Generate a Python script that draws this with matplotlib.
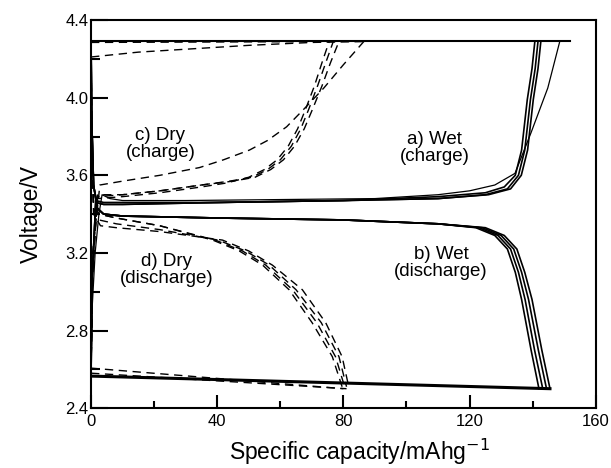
import matplotlib
matplotlib.use("Agg")
import matplotlib.pyplot as plt
from matplotlib.ticker import MultipleLocator

plt.rcParams['font.family'] = ['Liberation Sans', 'DejaVu Sans']

# ---- wet cell, charge (solid)
wet_chg1_x = [0, 0.3, 1.3, 2.5, 3.5, 6, 10, 30, 60, 90, 110, 120, 128, 134.4, 139.5, 144.8, 148.6]
wet_chg1_v = [2.56, 2.9, 3.2, 3.4, 3.50, 3.48, 3.47, 3.47, 3.475, 3.48, 3.50, 3.52, 3.55, 3.61, 3.82, 4.05, 4.29]
wet_chg2_x = [0, 0.3, 1.5, 4, 10, 40, 80, 110, 125, 131, 134.5, 136.5, 138.3, 139.8, 140.7]
wet_chg2_v = [2.56, 3.05, 3.47, 3.46, 3.46, 3.46, 3.47, 3.49, 3.51, 3.54, 3.60, 3.73, 3.99, 4.15, 4.29]
wet_chg3_x = [0, 0.3, 1.5, 4, 10, 40, 80, 110, 125, 132, 135.5, 137.5, 139.3, 140.8, 141.7]
wet_chg3_v = [2.56, 3.05, 3.46, 3.45, 3.45, 3.46, 3.47, 3.48, 3.50, 3.53, 3.60, 3.73, 3.99, 4.15, 4.29]
wet_chg4_x = [0, 0.3, 1.5, 4, 10, 40, 80, 110, 126, 133, 136.4, 138.4, 140.2, 141.7, 142.6]
wet_chg4_v = [2.56, 3.05, 3.46, 3.45, 3.45, 3.46, 3.47, 3.48, 3.50, 3.53, 3.60, 3.73, 3.99, 4.15, 4.29]

# ---- wet cell, discharge (solid)
wet_dis1_x = [0, 0.2, 0.8, 2, 4, 10, 40, 80, 110, 122, 128, 132, 134.5, 136.5, 139.5, 142]
wet_dis1_v = [4.29, 3.9, 3.55, 3.43, 3.40, 3.39, 3.38, 3.37, 3.35, 3.33, 3.29, 3.22, 3.10, 2.96, 2.70, 2.50]
wet_dis2_x = [0, 0.2, 0.8, 2, 4, 10, 40, 80, 110, 123, 129, 133, 135.5, 137.6, 140.6, 143.2]
wet_dis2_v = [4.29, 3.9, 3.55, 3.43, 3.40, 3.39, 3.38, 3.37, 3.35, 3.33, 3.29, 3.22, 3.10, 2.96, 2.70, 2.50]
wet_dis3_x = [0, 0.2, 0.8, 2, 4, 10, 40, 80, 110, 124, 130, 134, 136.5, 138.7, 141.8, 144.4]
wet_dis3_v = [4.29, 3.9, 3.55, 3.43, 3.40, 3.39, 3.38, 3.37, 3.35, 3.33, 3.29, 3.22, 3.10, 2.96, 2.70, 2.50]
wet_dis4_x = [0, 0.2, 0.8, 2, 4, 10, 40, 80, 110, 125, 131, 135, 137.5, 139.8, 142.9, 145.5]
wet_dis4_v = [4.29, 3.9, 3.55, 3.43, 3.40, 3.39, 3.38, 3.37, 3.35, 3.33, 3.29, 3.22, 3.10, 2.96, 2.70, 2.50]

wet_top_x = [0, 152]
wet_top_v = [4.29, 4.29]
wet_bot_x = [0, 145.5]
wet_bot_v = [2.565, 2.50]

# ---- dry cell, charge (dashed)
dry_chg1_x = [0, 0.5, 2, 10, 21.8, 35, 42.8, 50, 55, 59, 62.5, 65.5, 68, 70.8, 73.2, 75.5]
dry_chg1_v = [2.60, 3.1, 3.48, 3.49, 3.51, 3.54, 3.56, 3.59, 3.63, 3.68, 3.75, 3.84, 3.94, 4.06, 4.18, 4.29]
dry_chg2_x = [0, 0.5, 2, 10, 21.8, 35, 44, 51, 56, 60, 63.5, 66.5, 69, 71.8, 74.4, 76.8]
dry_chg2_v = [2.60, 3.1, 3.49, 3.50, 3.52, 3.55, 3.57, 3.59, 3.63, 3.68, 3.75, 3.84, 3.94, 4.06, 4.18, 4.29]
dry_chg3_x = [0, 0.5, 2, 10, 21.8, 35, 45, 52, 57, 61, 64.5, 67.6, 70.2, 73.2, 75.9, 78.6]
dry_chg3_v = [2.60, 3.1, 3.50, 3.50, 3.52, 3.55, 3.57, 3.59, 3.63, 3.68, 3.75, 3.84, 3.94, 4.06, 4.18, 4.29]
dry_chg4_x = [0, 0.5, 2.8, 10, 21.8, 34.4, 42, 50.2, 56, 62, 68, 73.8, 80, 86.5]
dry_chg4_v = [2.62, 3.2, 3.55, 3.57, 3.60, 3.64, 3.68, 3.73, 3.78, 3.85, 3.95, 4.05, 4.17, 4.29]

dry_top_x = [0, 15, 30, 50, 70, 86]
dry_top_v = [4.21, 4.235, 4.25, 4.27, 4.285, 4.29]
dry_top2_x = [0, 86]
dry_top2_v = [4.285, 4.29]

# ---- dry cell, discharge (dashed)
dry_dis1_x = [0, 0.2, 0.8, 2.5, 8, 21.8, 38.6, 47, 54.4, 62.8, 70.1, 76.5, 79.6]
dry_dis1_v = [4.29, 3.8, 3.45, 3.40, 3.38, 3.34, 3.266, 3.21, 3.137, 3.01, 2.84, 2.665, 2.51]
dry_dis2_x = [0, 0.2, 0.8, 2.5, 8, 21.8, 39.4, 48, 55.4, 63.9, 71.6, 77.5, 80.4]
dry_dis2_v = [4.29, 3.8, 3.45, 3.40, 3.38, 3.34, 3.266, 3.21, 3.137, 3.01, 2.84, 2.665, 2.51]
dry_dis3_x = [0, 0.2, 0.8, 2.5, 8, 21.8, 40.3, 49, 56.5, 65, 73, 78.6, 81.0]
dry_dis3_v = [4.29, 3.8, 3.43, 3.37, 3.35, 3.32, 3.266, 3.21, 3.137, 3.01, 2.84, 2.665, 2.51]
dry_dis4_x = [0, 0.2, 0.8, 3, 8, 21.8, 41.7, 50, 57.5, 67, 74.4, 79.6, 81.7]
dry_dis4_v = [4.29, 3.8, 3.40, 3.34, 3.33, 3.31, 3.266, 3.21, 3.137, 3.01, 2.84, 2.665, 2.51]

dry_bot1_x = [0, 80]
dry_bot1_v = [2.606, 2.50]
dry_bot2_x = [0, 81]
dry_bot2_v = [2.58, 2.50]

# ---- annotations
label_text = ['a) Wet\n(charge)', 'b) Wet\n(discharge)', 'c) Dry\n(charge)', 'd) Dry\n(discharge)']
label_x = [109, 111, 22, 24]
label_v = [3.74, 3.15, 3.76, 3.11]

wet_curves = [(wet_chg1_x, wet_chg1_v, 0.9), (wet_chg2_x, wet_chg2_v, 1.2),
              (wet_chg3_x, wet_chg3_v, 1.2), (wet_chg4_x, wet_chg4_v, 1.2),
              (wet_dis1_x, wet_dis1_v, 1.2), (wet_dis2_x, wet_dis2_v, 1.2),
              (wet_dis3_x, wet_dis3_v, 1.2), (wet_dis4_x, wet_dis4_v, 1.2),
              (wet_top_x, wet_top_v, 1.5), (wet_bot_x, wet_bot_v, 2.2)]
dry_curves = [dry_chg1_x, dry_chg1_v], [dry_chg2_x, dry_chg2_v], [dry_chg3_x, dry_chg3_v], \
             [dry_chg4_x, dry_chg4_v], [dry_top_x, dry_top_v], [dry_top2_x, dry_top2_v], \
             [dry_dis1_x, dry_dis1_v], [dry_dis2_x, dry_dis2_v], [dry_dis3_x, dry_dis3_v], \
             [dry_dis4_x, dry_dis4_v], [dry_bot1_x, dry_bot1_v], [dry_bot2_x, dry_bot2_v]

fig = plt.figure(figsize=(6.11, 4.68), dpi=100)
ax = fig.add_axes([0.149, 0.128, 0.826, 0.829])

for xs, vs, lw in wet_curves:
    ax.plot(xs, vs, color='black', linewidth=lw, solid_joinstyle='round')
for xs, vs in dry_curves:
    ax.plot(xs, vs, color='black', linewidth=1.0, linestyle=(0, (6, 4)))

for t, x, v in zip(label_text, label_x, label_v):
    ax.text(x, v, t, ha='center', va='center', fontsize=13.5, linespacing=1.0)

ax.set_xlim(0, 160)
ax.set_ylim(2.4, 4.4)
ax.xaxis.set_major_locator(MultipleLocator(40))
ax.xaxis.set_minor_locator(MultipleLocator(20))
ax.yaxis.set_major_locator(MultipleLocator(0.4))
ax.yaxis.set_minor_locator(MultipleLocator(0.2))
ax.tick_params(axis='both', which='both', direction='in', width=1.5, labelsize=12)
ax.tick_params(axis='y', which='major', length=12, pad=2)
ax.tick_params(axis='y', which='minor', length=6.5)
ax.tick_params(axis='x', which='major', length=9.5, pad=4)
ax.tick_params(axis='x', which='minor', length=5)
for s in ax.spines.values():
    s.set_linewidth(1.5)

ax.set_xlabel('Specific capacity/mAhg$^{\u22121}$', fontsize=16.5)
ax.set_ylabel('Voltage/V', fontsize=16.5)
ax.xaxis.set_label_coords(0.532, -0.075)
ax.yaxis.set_label_coords(-0.095, 0.5)

fig.savefig('out.png', dpi=100)
